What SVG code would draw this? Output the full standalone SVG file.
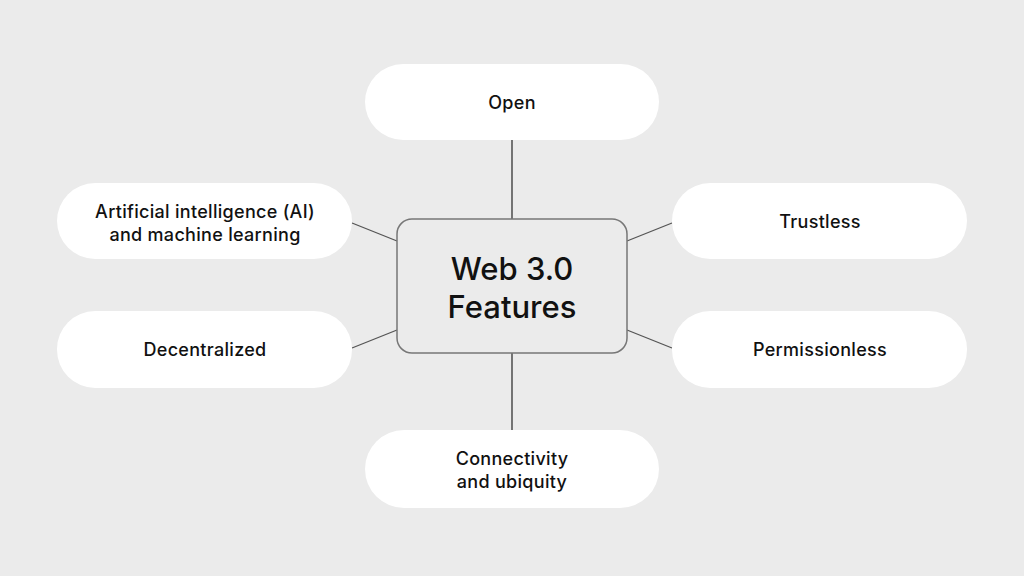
<svg xmlns="http://www.w3.org/2000/svg" width="1024" height="576" viewBox="0 0 1024 576">
<style>
.pill{fill:#ffffff;}
.lbl{font-family:Inter,"Noto Sans","Liberation Sans",sans-serif;font-size:18px;font-weight:500;letter-spacing:0.3px;fill:#111;text-anchor:middle;dominant-baseline:central;}
.ttl{font-family:Inter,"Noto Sans","Liberation Sans",sans-serif;font-size:31px;font-weight:500;fill:#111;text-anchor:middle;dominant-baseline:central;}
.conn line{stroke:#555;stroke-width:1.3;}
</style>
<rect width="1024" height="576" fill="#ebebeb"/>
<g class="conn" id="connectors">
<line x1="512" y1="140" x2="512" y2="219" style="stroke:#333"/>
<line x1="512" y1="353" x2="512" y2="430" style="stroke:#333"/>
<line x1="352" y1="223" x2="397" y2="241"/>
<line x1="352" y1="348" x2="397" y2="330"/>
<line x1="627" y1="241" x2="672" y2="223"/>
<line x1="627" y1="330" x2="672" y2="348"/>
</g>
<g id="center">
<rect x="397" y="219" width="230" height="134" rx="15" fill="#ebebeb" stroke="#777" stroke-width="1.5"/>
<text class="ttl" x="512" y="268">Web 3.0</text>
<text class="ttl" x="512" y="306">Features</text>
</g>
<g id="open">
<rect class="pill" x="365" y="64" width="294" height="76" rx="38"/>
<text class="lbl" x="512" y="102">Open</text>
</g>
<g id="ai">
<rect class="pill" x="57" y="183" width="295" height="76" rx="38"/>
<text class="lbl" x="205" y="211">Artificial intelligence (AI)</text>
<text class="lbl" x="205" y="234">and machine learning</text>
</g>
<g id="decentralized">
<rect class="pill" x="57" y="311" width="295" height="77" rx="38"/>
<text class="lbl" x="205" y="349">Decentralized</text>
</g>
<g id="trustless">
<rect class="pill" x="672" y="183" width="295" height="76" rx="38"/>
<text class="lbl" x="820" y="221">Trustless</text>
</g>
<g id="permissionless">
<rect class="pill" x="672" y="311" width="295" height="77" rx="38"/>
<text class="lbl" x="820" y="349">Permissionless</text>
</g>
<g id="connectivity">
<rect class="pill" x="365" y="430" width="294" height="78" rx="39"/>
<text class="lbl" x="512" y="458">Connectivity</text>
<text class="lbl" x="512" y="481">and ubiquity</text>
</g>
</svg>
